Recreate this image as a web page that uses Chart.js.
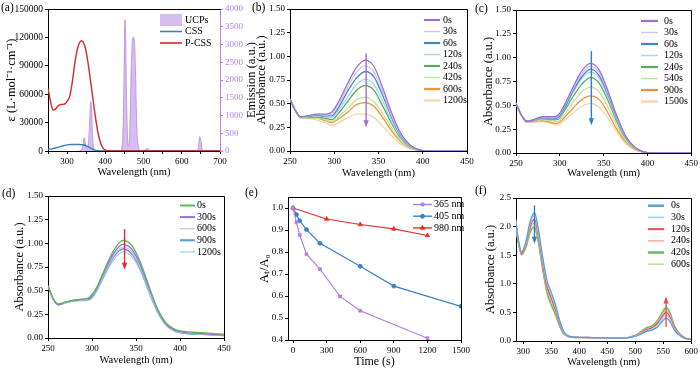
<!DOCTYPE html>
<html>
<head>
<meta charset="utf-8">
<script src="https://cdn.jsdelivr.net/npm/chart.js@4.4.1/dist/chart.umd.min.js"></script>
<style>
  html, body { margin: 0; padding: 0; background: #fff; }
  #fig { position: relative; width: 700px; height: 368px; overflow: hidden; }
  #fig canvas { position: absolute; display: block; }
</style>
</head>
<body>
<div id="fig">
  <canvas id="ca" width="262" height="185" style="left:0;top:0"></canvas>
  <canvas id="cb" width="236" height="185" style="left:240px;top:0"></canvas>
  <canvas id="cc" width="230" height="185" style="left:470px;top:0"></canvas>
  <canvas id="cd" width="240" height="183" style="left:0;top:185px"></canvas>
  <canvas id="ce" width="232" height="183" style="left:240px;top:185px"></canvas>
  <canvas id="cf" width="230" height="183" style="left:470px;top:185px"></canvas>
</div>
<script>
// ---------- (a) molar absorptivity + UCP emission ----------
const aPcssX = [250,253,257,261,265,270,276,282,288,294,300,307,314,320,326,332,337,342,348,354,360,367,374,381,388,395,402,410,425,700];
const aPcss  = [66000,60000,51000,45000,43300,44500,47500,49000,49200,49800,52500,58000,74000,92000,106000,114000,116500,115000,108500,95000,78000,57000,36000,19000,8000,2500,700,100,0,0];
const aCssX  = [250,260,270,280,290,300,310,320,330,340,348,356,364,372,380,390,400,700];
const aCss   = [1800,2300,3200,4300,5500,6500,6900,6800,6800,6600,5800,4300,2600,1200,400,50,0,0];
const aUcpX  = [330,338,342,345,348,352,355,358,360,362,364,366,369,373,440,443,446,449,451,453,455,458,461,464,467,470,473,476,479,482,486,492,502,508,512,518,530,640,644,647,650,653,657,700];
const aUcp   = [0,30,200,380,200,60,100,600,1100,1390,1200,600,100,0,0,80,500,2200,3700,3300,1800,400,150,600,2000,3000,3200,3100,2200,800,150,20,20,60,60,10,0,0,150,400,300,60,0,0];
const aXTicks  = [250,300,350,400,450,500,550,600,650,700];
const aYTicks  = [0,30000,60000,90000,120000,150000];
const aY2Ticks = [0,500,1000,1500,2000,2500,3000,3500,4000];

// ---------- (b) absorbance under 365 nm ----------
const bX = [250,256,262,270,280,290,297,305,315,325,335,345,355,365,375,385,395,405,450];
const bLabels = ['0s','30s','60s','120s','240s','420s','600s','1200s'];
const b0    = [.55,.43,.36,.37,.39,.39,.41,.52,.71,.88,.96,.89,.66,.40,.19,.07,.015,0,0];
const b30   = [.55,.43,.36,.37,.385,.38,.39,.49,.67,.83,.90,.83,.62,.37,.175,.065,.014,0,0];
const b60   = [.55,.43,.36,.365,.38,.37,.37,.46,.63,.77,.84,.78,.58,.35,.165,.06,.013,0,0];
const b120  = [.55,.43,.355,.36,.37,.36,.35,.43,.57,.70,.76,.70,.52,.31,.15,.055,.012,0,0];
const b240  = [.55,.43,.355,.355,.36,.345,.33,.40,.52,.64,.69,.64,.47,.29,.135,.05,.011,0,0];
const b420  = [.55,.43,.35,.35,.35,.33,.31,.36,.45,.54,.57,.52,.39,.24,.11,.04,.009,0,0];
const b600  = [.55,.43,.35,.35,.35,.32,.30,.34,.41,.49,.51,.47,.35,.21,.10,.036,.008,0,0];
const b1200 = [.55,.43,.35,.345,.33,.30,.27,.30,.35,.39,.39,.35,.26,.16,.075,.027,.006,0,0];

// ---------- (c) absorbance under 405 nm ----------
const cX = bX;
const cLabels = ['0s','30s','60s','120s','240s','540s','900s','1500s'];
const c0    = [.52,.40,.335,.35,.38,.38,.39,.50,.69,.86,.94,.87,.65,.39,.18,.065,.015,0,0];
const c30   = [.52,.40,.335,.35,.375,.375,.38,.49,.67,.83,.91,.84,.63,.38,.175,.063,.014,0,0];
const c60   = [.52,.40,.335,.345,.37,.37,.37,.47,.65,.80,.88,.81,.61,.37,.17,.061,.014,0,0];
const c120  = [.52,.40,.335,.345,.365,.36,.36,.46,.63,.78,.85,.78,.59,.355,.165,.059,.013,0,0];
const c240  = [.52,.40,.33,.34,.36,.35,.35,.44,.59,.72,.79,.73,.55,.33,.155,.055,.012,0,0];
const c540  = [.52,.40,.33,.335,.35,.34,.33,.40,.53,.64,.69,.64,.48,.29,.135,.048,.011,0,0];
const c900  = [.52,.40,.325,.33,.34,.32,.31,.37,.47,.56,.60,.56,.42,.25,.12,.042,.01,0,0];
const c1500 = [.52,.40,.325,.325,.33,.31,.29,.34,.42,.49,.52,.48,.36,.22,.10,.036,.008,0,0];

// ---------- (d) absorbance under 980 nm ----------
const dX = [250,256,262,270,280,290,297,305,315,325,335,345,355,365,375,385,395,405,420,450];
const dLabels = ['0s','300s','600s','900s','1200s'];
const d0    = [.55,.41,.36,.38,.40,.41,.43,.53,.74,.93,1.03,.98,.80,.54,.30,.15,.09,.07,.06,.04];
const d300  = [.55,.41,.355,.38,.40,.41,.42,.52,.72,.90,.99,.94,.77,.52,.29,.14,.08,.06,.05,.03];
const d600  = [.55,.41,.355,.375,.40,.405,.42,.51,.70,.88,.96,.91,.75,.50,.28,.135,.075,.055,.045,.028];
const d900  = [.55,.41,.35,.375,.395,.40,.41,.50,.69,.86,.94,.89,.73,.49,.27,.13,.07,.05,.04,.025];
const d1200 = [.55,.41,.35,.37,.39,.395,.40,.49,.67,.83,.91,.86,.71,.47,.26,.125,.07,.05,.04,.025];

// ---------- (e) At/A0 vs time ----------
const eLabels = ['365 nm','405 nm','980 nm'];
const e365T = [0,30,60,120,240,420,600,1200];
const e365  = [1.0,0.935,0.877,0.79,0.722,0.598,0.533,0.408];
const e405T = [0,30,60,120,240,600,900,1500];
const e405  = [1.0,0.97,0.942,0.902,0.84,0.735,0.645,0.553];
const e980T = [0,300,600,900,1200];
const e980  = [1.0,0.95,0.925,0.905,0.875];
const eXTicks = [0,300,600,900,1200,1500];
const eYTicks = [0.4,0.5,0.6,0.7,0.8,0.9,1.0];

// ---------- (f) absorbance, photoswitch ----------
const fX = [285,290,297,305,312,320,327,335,342,350,357,365,372,380,390,400,425,450,475,500,510,520,530,540,548,555,562,570,580,590,600];
const fLabels = ['0s','30s','120s','240s','420s','600s'];
const f0   = [2.22,1.85,1.56,1.75,2.08,2.25,1.95,1.45,1.07,0.85,0.65,0.36,0.17,0.09,0.07,0.065,0.06,0.05,0.05,0.08,0.12,0.17,0.19,0.25,0.34,0.40,0.34,0.19,0.09,0.04,0.03];
const f30  = [2.21,1.83,1.55,1.73,2.04,2.20,1.90,1.40,1.03,0.81,0.61,0.34,0.16,0.09,0.07,0.065,0.06,0.05,0.05,0.085,0.13,0.18,0.21,0.28,0.38,0.45,0.38,0.21,0.10,0.04,0.03];
const f120 = [2.20,1.81,1.53,1.70,1.99,2.13,1.84,1.34,0.97,0.75,0.56,0.31,0.15,0.085,0.07,0.065,0.06,0.05,0.05,0.09,0.14,0.20,0.23,0.31,0.42,0.50,0.42,0.23,0.11,0.045,0.03];
const f240 = [2.20,1.80,1.52,1.68,1.95,2.07,1.79,1.30,0.93,0.71,0.53,0.29,0.14,0.08,0.065,0.06,0.055,0.05,0.05,0.09,0.15,0.21,0.24,0.33,0.45,0.53,0.45,0.24,0.11,0.045,0.03];
const f420 = [2.19,1.79,1.51,1.65,1.90,2.00,1.73,1.24,0.87,0.64,0.48,0.26,0.13,0.08,0.065,0.06,0.055,0.05,0.05,0.10,0.16,0.23,0.26,0.36,0.49,0.58,0.49,0.26,0.12,0.05,0.03];
const f600 = [2.18,1.78,1.50,1.63,1.87,1.97,1.70,1.21,0.84,0.61,0.46,0.25,0.12,0.075,0.06,0.06,0.055,0.05,0.05,0.10,0.17,0.24,0.27,0.37,0.51,0.60,0.51,0.27,0.12,0.05,0.03];

const wlTicks   = [250,300,350,400,450];
const absTicks  = [0,0.25,0.5,0.75,1.0,1.25,1.5];
const fXTicks   = [300,350,400,450,500,550,600];
const fYTicks   = [0,0.5,1.0,1.5,2.0,2.5];

// ---------- styles ----------
const FONT = "'Liberation Serif','Times New Roman',Times,serif";
const VIOLET = '#b084f5';
const timeColors = ['#9a6fd0','#dcc0ec','#3f87c6','#a9d3ef','#4fae4f','#bfe3a2','#f39232','#fbd3a3'];
const dColors = ['#5cb85c','#9a6fd0','#dcc0ec','#5a9fd8','#a9d3ef'];
const fColors = ['#5a9fd8','#a8d2f0','#ee4b52','#f6aeb0','#5db85c','#bde5a0'];
const eColors = ['#b27fea','#3b80c3','#ee2b2b'];

Chart.defaults.font.family = FONT;
Chart.defaults.color = '#000';

function curve(label, xs, ys, color, w) {
  return {
    label, data: xs.map((x, i) => ({ x, y: ys[i] })),
    borderColor: color, backgroundColor: color, borderWidth: w || 1.3,
    pointRadius: 0, cubicInterpolationMode: 'monotone', fill: false
  };
}

function xAxis(o) {
  return {
    type: 'linear', min: o.min, max: o.max,
    afterBuildTicks: s => { s.ticks = o.ticks.map(v => ({ value: v })); },
    afterFit: s => { s.height = o.h; },
    border: { display: true, color: '#000', width: 1 },
    grid: { drawOnChartArea: false, drawTicks: true, tickLength: 3, color: '#000' },
    ticks: { font: { size: 9 }, padding: 2, maxRotation: 0, autoSkip: false,
             callback: o.cb || (v => String(v)) },
    title: { display: true, text: o.title, font: { size: o.ts || 10.5, lineHeight: 1 },
             padding: { top: 0, bottom: o.tp } }
  };
}

function yAxis(o) {
  const col = o.color || '#000';
  return {
    type: 'linear', position: o.pos || 'left', min: o.min, max: o.max,
    afterBuildTicks: s => { s.ticks = o.ticks.map(v => ({ value: v })); },
    afterFit: s => { s.width = o.w; },
    border: { display: true, color: col, width: 1 },
    grid: { drawOnChartArea: false, drawTicks: true, tickLength: 3, color: col },
    ticks: { font: { size: o.fs || 9 }, padding: 2, color: col, autoSkip: false,
             callback: o.cb || (v => String(v)) },
    title: { display: !!o.title, text: o.title, font: { size: 12.5, lineHeight: 1 },
             padding: { top: o.tp || 0, bottom: 0 } }
  };
}

// frame, arrows, in-plot legend and loose labels
const deco = {
  id: 'deco',
  afterDatasetsDraw(chart, args, o) {
    const ctx = chart.ctx, a = chart.chartArea;
    const al = p => Math.round(p - 0.5) + 0.5;
    ctx.save();
    ctx.strokeStyle = '#000';
    ctx.lineWidth = 1;
    ctx.beginPath();
    ctx.moveTo(al(a.left), al(a.top));
    ctx.lineTo(al(a.right), al(a.top));
    if (o.frameRight !== false) ctx.lineTo(al(a.right), al(a.bottom));
    ctx.stroke();

    (o.arrows || []).forEach(ar => {
      const xs = chart.scales.x, ys = chart.scales.y;
      const px = xs.getPixelForValue(ar.x);
      const y1 = ys.getPixelForValue(ar.from), y2 = ys.getPixelForValue(ar.to);
      const dir = y2 > y1 ? 1 : -1;
      ctx.strokeStyle = ar.color; ctx.fillStyle = ar.color; ctx.lineWidth = 1.4;
      ctx.beginPath(); ctx.moveTo(px, y1); ctx.lineTo(px, y2 - dir * 5); ctx.stroke();
      ctx.beginPath(); ctx.moveTo(px, y2); ctx.lineTo(px - 2.6, y2 - dir * 7);
      ctx.lineTo(px + 2.6, y2 - dir * 7); ctx.closePath(); ctx.fill();
    });

    if (o.legend) {
      const L = o.legend;
      ctx.font = `${L.size || 10}px ${FONT}`;
      ctx.textBaseline = 'middle'; ctx.textAlign = 'left';
      L.order.forEach((di, i) => {
        const ds = chart.data.datasets[di];
        const y = L.y + i * L.dy;
        if (ds.fill) {
          ctx.fillStyle = ds.backgroundColor;
          ctx.fillRect(L.x, y - 6, L.len, 12);
        } else {
          ctx.strokeStyle = ds.borderColor;
          ctx.lineWidth = L.lw ? L.lw[i] : 2;
          ctx.beginPath(); ctx.moveTo(L.x, y); ctx.lineTo(L.x + L.len, y); ctx.stroke();
          if (ds.pointStyle && ds.pointRadius) {
            ctx.fillStyle = ds.borderColor; ctx.lineWidth = 1;
            Chart.helpers.drawPoint(ctx, { pointStyle: ds.pointStyle, radius: ds.pointRadius,
              rotation: 0, borderWidth: 1 }, L.x + L.len / 2, y);
          }
        }
        ctx.fillStyle = '#000';
        ctx.fillText(ds.label, L.x + L.len + L.gap, y);
      });
    }

    (o.texts || []).forEach(t => {
      ctx.save();
      ctx.font = `${t.size || 11.5}px ${FONT}`;
      ctx.fillStyle = t.color || '#000';
      ctx.textAlign = t.align || 'left';
      ctx.textBaseline = 'middle';
      ctx.translate(t.x, t.y);
      if (t.rot) ctx.rotate(t.rot);
      ctx.fillText(t.t, 0, 0);
      ctx.restore();
    });
    ctx.restore();
  }
};
Chart.register(deco);

function base(o) {
  return {
    responsive: false, animation: false, events: [],
    layout: { padding: o.pad },
    scales: o.scales,
    plugins: { legend: { display: false }, tooltip: { enabled: false }, deco: o.deco }
  };
}

const thick = [2.2,1.4,2.2,1.4,2.2,1.4,2.2,2.2];
const absCb = v => v.toFixed(2);

// (a)
new Chart(document.getElementById('ca'), {
  type: 'line',
  data: { datasets: [
    curve('P-CSS', aPcssX, aPcss, '#d42a2a', 1.4),
    curve('CSS', aCssX, aCss, '#3a7fc0', 1.4),
    Object.assign(curve('UCPs', aUcpX, aUcp, '#b58be0', 0.8),
      { yAxisID: 'y2', fill: 'origin', backgroundColor: 'rgba(190,155,230,0.65)' })
  ]},
  options: base({
    pad: { top: 9, right: 0, bottom: 0, left: 0 },
    scales: {
      x: xAxis({ min: 250, max: 700, ticks: aXTicks, h: 34, title: 'Wavelength (nm)', tp: 7.75,
                 cb: v => (v % 100 === 0 ? String(v) : '') }),
      y: yAxis({ min: 0, max: 150000, ticks: aYTicks, w: 48, fs: 9.5,
                 title: 'ε (L·mol⁻¹·cm⁻¹)', tp: 5.5 }),
      y2: yAxis({ pos: 'right', min: 0, max: 4000, ticks: aY2Ticks, w: 42, color: VIOLET })
    },
    deco: {
      frameRight: false,
      legend: { x: 160, y: 20, dy: 11.5, len: 22, gap: 3, order: [2, 1, 0], lw: [0, 1.6, 1.6] },
      texts: [
        { t: '(a)', x: 1, y: 7.5 },
        { t: 'Emission (a.u.)', x: 252, y: 80, rot: -Math.PI / 2, size: 12.5, align: 'center' }
      ]
    }
  })
});

// (b)
const bSeries = [b0, b30, b60, b120, b240, b420, b600, b1200];
new Chart(document.getElementById('cb'), {
  type: 'line',
  data: { datasets: bSeries.map((ys, i) => curve(bLabels[i], bX, ys, timeColors[i])) },
  options: base({
    pad: { top: 9, right: 9, bottom: 0, left: 0 },
    scales: {
      x: xAxis({ min: 250, max: 450, ticks: wlTicks, h: 34, title: 'Wavelength (nm)', tp: 6.75 }),
      y: yAxis({ min: 0, max: 1.5, ticks: absTicks, w: 50, title: 'Absorbance (a.u.)', tp: 15.75, cb: absCb })
    },
    deco: {
      arrows: [{ x: 336, from: 1.03, to: 0.25, color: '#9a6fd0' }],
      legend: { x: 184, y: 20, dy: 11.5, len: 16, gap: 3, order: [0,1,2,3,4,5,6,7], lw: thick },
      texts: [{ t: '(b)', x: 12, y: 8 }]
    }
  })
});

// (c)
const cSeries = [c0, c30, c60, c120, c240, c540, c900, c1500];
new Chart(document.getElementById('cc'), {
  type: 'line',
  data: { datasets: cSeries.map((ys, i) => curve(cLabels[i], cX, ys, timeColors[i])) },
  options: base({
    pad: { top: 10, right: 8, bottom: 0, left: 0 },
    scales: {
      x: xAxis({ min: 250, max: 450, ticks: wlTicks, h: 32, title: 'Wavelength (nm)', tp: 6.75 }),
      y: yAxis({ min: 0, max: 1.5, ticks: absTicks, w: 46, title: 'Absorbance (a.u.)', tp: 12, cb: absCb })
    },
    deco: {
      arrows: [{ x: 336, from: 1.07, to: 0.29, color: '#2f7fc4' }],
      legend: { x: 171, y: 21, dy: 11.5, len: 17, gap: 6, order: [0,1,2,3,4,5,6,7], lw: thick },
      texts: [{ t: '(c)', x: 5, y: 9 }]
    }
  })
});

// (d)
const dSeries = [d0, d300, d600, d900, d1200];
new Chart(document.getElementById('cd'), {
  type: 'line',
  data: { datasets: dSeries.map((ys, i) => curve(dLabels[i], dX, ys, dColors[i])) },
  options: base({
    pad: { top: 11, right: 16, bottom: 0, left: 0 },
    scales: {
      x: xAxis({ min: 250, max: 450, ticks: wlTicks, h: 30, title: 'Wavelength (nm)', tp: 2.75 }),
      y: yAxis({ min: 0, max: 1.5, ticks: absTicks, w: 48, title: 'Absorbance (a.u.)', tp: 13.75, cb: absCb })
    },
    deco: {
      arrows: [{ x: 337, from: 1.15, to: 0.72, color: '#e8262b' }],
      legend: { x: 180, y: 20.5, dy: 11.6, len: 15, gap: 2, order: [0,1,2,3,4], lw: [2,2,1.4,2.2,1.4] },
      texts: [{ t: '(d)', x: 2, y: 9 }]
    }
  })
});

// (e)
const eSeries = [[e365T, e365, 'rect'], [e405T, e405, 'circle'], [e980T, e980, 'triangle']];
new Chart(document.getElementById('ce'), {
  type: 'line',
  data: { datasets: eSeries.map((s, i) => ({
    label: eLabels[i], data: s[0].map((x, j) => ({ x, y: s[1][j] })),
    borderColor: eColors[i], backgroundColor: eColors[i], borderWidth: 1.2, tension: 0,
    pointStyle: s[2], pointRadius: s[2] === 'triangle' ? 2.5 : 2, pointBorderWidth: 0.8, fill: false
  })) },
  options: base({
    pad: { top: 12, right: 7, bottom: 0, left: 0 },
    scales: {
      x: xAxis({ min: -45, max: 1500, ticks: eXTicks, h: 28, title: 'Time (s)', ts: 12, tp: 0 }),
      y: yAxis({ min: 0.4, max: 1.05, ticks: eYTicks, w: 48, title: 'Aₜ/A₀', tp: 18.75,
                 cb: v => v.toFixed(1) })
    },
    deco: {
      legend: { x: 173, y: 19.5, dy: 11.7, len: 19, gap: 2, order: [0,1,2], lw: [1.4,1.4,1.4] },
      texts: [{ t: '(e)', x: 5, y: 7.5 }]
    }
  })
});

// (f)
const fSeries = [f0, f30, f120, f240, f420, f600];
new Chart(document.getElementById('cf'), {
  type: 'line',
  data: { datasets: fSeries.map((ys, i) => curve(fLabels[i], fX, ys, fColors[i])) },
  options: base({
    pad: { top: 13, right: 7, bottom: 0, left: 0 },
    scales: {
      x: xAxis({ min: 287, max: 600, ticks: fXTicks, h: 27, title: 'Wavelength (nm)', tp: 0.25 }),
      y: yAxis({ min: 0, max: 2.5, ticks: fYTicks, w: 46, title: 'Absorbance (a.u.)', tp: 14.75,
                 cb: v => v.toFixed(1) })
    },
    deco: {
      arrows: [{ x: 320, from: 2.37, to: 1.70, color: '#2f7fc4' },
               { x: 555, from: 0.25, to: 0.78, color: '#ee4b52' }],
      legend: { x: 178, y: 20.7, dy: 11.7, len: 16, gap: 7, order: [0,1,2,3,4,5], lw: [2.4,1.6,2,1.6,2.4,1.6] },
      texts: [{ t: '(f)', x: 5, y: 6 }]
    }
  })
});
</script>
</body>
</html>
